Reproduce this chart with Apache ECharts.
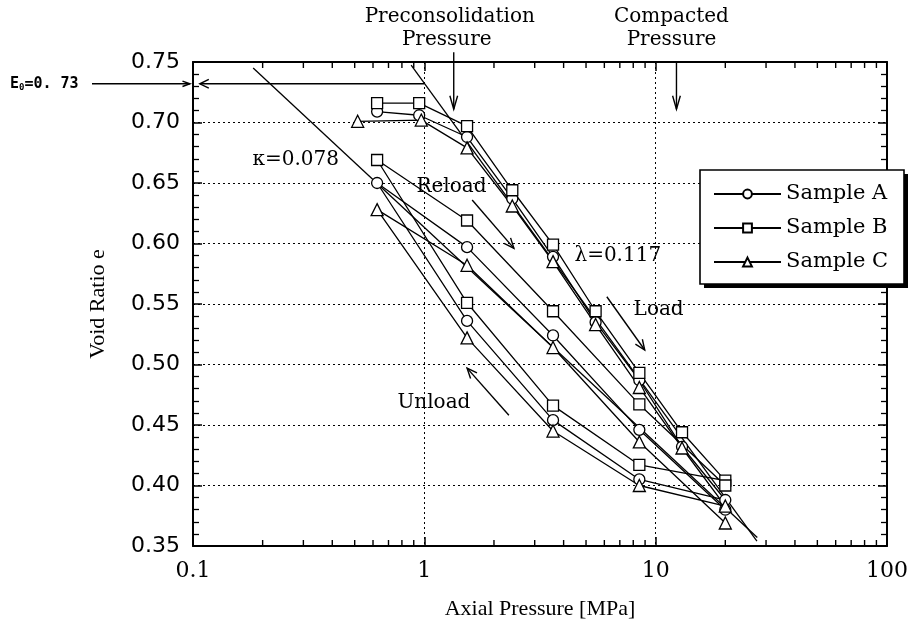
<!DOCTYPE html>
<html><head><meta charset="utf-8">
<script src="https://cdn.jsdelivr.net/npm/echarts@6/dist/echarts.min.js"></script>
<style>html,body{margin:0;padding:0;background:#fff}#c{width:914px;height:635px}</style>
</head><body><div id="c"></div>
<script>
// ---- data ----
const sampleNames = ['Sample A', 'Sample B', 'Sample C'];
// load -> unload -> reload path for each sample
const sampleA_p = [0.625, 0.95, 1.53, 2.4, 3.6, 5.5, 8.5, 13, 20, 8.5, 3.6, 1.53, 0.625, 1.53, 3.6, 8.5, 20];
const sampleA_e = [0.709, 0.706, 0.688, 0.637, 0.589, 0.535, 0.487, 0.432, 0.388, 0.405, 0.454, 0.536, 0.650, 0.597, 0.524, 0.446, 0.380];
const sampleB_p = [0.625, 0.95, 1.53, 2.4, 3.6, 5.5, 8.5, 13, 20, 8.5, 3.6, 1.53, 0.625, 1.53, 3.6, 8.5, 20];
const sampleB_e = [0.716, 0.716, 0.697, 0.644, 0.599, 0.544, 0.493, 0.444, 0.404, 0.417, 0.466, 0.551, 0.669, 0.619, 0.544, 0.467, 0.400];
const sampleC_p = [0.515, 0.97, 1.53, 2.4, 3.6, 5.5, 8.5, 13, 20, 8.5, 3.6, 1.53, 0.625, 1.53, 3.6, 8.5, 20];
const sampleC_e = [0.701, 0.702, 0.679, 0.631, 0.585, 0.533, 0.481, 0.431, 0.383, 0.400, 0.445, 0.522, 0.628, 0.582, 0.514, 0.436, 0.369];
const xTickLabels = [0.1, 1, 10, 100];
const xMinorTicks = [0.2,0.3,0.4,0.5,0.6,0.7,0.8,0.9, 2,3,4,5,6,7,8,9, 20,30,40,50,60,70,80,90];
const yRange = [0.35, 0.75];
const yStep = 0.05;
const kappaLine = [[0.182, 0.745], [27.5, 0.357]];
const lambdaLine = [[0.877, 0.7475], [27.4, 0.354]];
const e0Value = 0.732;
const precon_p = 1.34, compacted_p = 12.3;

const serif = 'DejaVu Serif';
const sans = 'DejaVu Sans';
const chart = echarts.init(document.getElementById('c'));

function pts(p, e) { return p.map((v, i) => [v, e[i]]); }
function sampleSeries(name, sym, size, p, e) {
  return {
    name, type: 'line', data: pts(p, e), symbol: sym, symbolSize: size, showAllSymbol: true,
    lineStyle: { color: '#000', width: 1.3 },
    itemStyle: { color: '#fff', borderColor: '#000', borderWidth: 1.3 },
    z: 3, animation: false, emphasis: { disabled: true }, silent: true
  };
}
const axisCommon = {
  axisLine: { lineStyle: { color: '#000', width: 2 } },
  axisTick: { inside: true, length: 9, lineStyle: { color: '#000', width: 1.5 } },
};
const xFmt = v => { const r = +(+v).toPrecision(3); return xTickLabels.includes(r) ? String(r) : ''; };

chart.setOption({
  animation: false,
  backgroundColor: '#fff',
  grid: { left: 193, right: 27, top: 62, bottom: 89 },
  legend: {
    data: sampleNames, orient: 'vertical', left: 700, top: 170, z: 8,
    itemWidth: 67, itemHeight: 11, itemGap: 10, padding: [12, 16, 12, 13],
    textStyle: { fontFamily: serif, fontSize: 21, color: '#000', lineHeight: 24 },
    selectedMode: false
  },
  xAxis: [
    Object.assign({ type: 'log', logBase: 10, min: 0.1, max: 100, position: 'bottom',
      axisLabel: { fontFamily: serif, fontSize: 22, color: '#000', margin: 14, formatter: xFmt },
      splitLine: { show: true, lineStyle: { color: '#000', type: [2, 3], width: 1 } },
      name: 'Axial Pressure [MPa]', nameLocation: 'middle', nameGap: 52,
      nameTextStyle: { fontFamily: 'Liberation Serif', fontSize: 22, color: '#000' } }, axisCommon),
    Object.assign({ type: 'log', logBase: 10, min: 0.1, max: 100, position: 'top',
      axisLabel: { show: false }, splitLine: { show: false } }, axisCommon)
  ],
  yAxis: [
    Object.assign({ type: 'value', min: yRange[0], max: yRange[1], interval: yStep, position: 'left',
      axisLabel: { fontFamily: sans, fontSize: 22, color: '#000', margin: 13, formatter: v => v.toFixed(2) },
      minorTick: { show: true, splitNumber: 5, length: 6, lineStyle: { color: '#000', width: 1.3 } },
      splitLine: { show: true, lineStyle: { color: '#000', type: [2, 3], width: 1 } },
      name: 'Void Ratio e', nameLocation: 'middle', nameGap: 84,
      nameTextStyle: { fontFamily: 'Liberation Serif', fontSize: 22, color: '#000' } }, axisCommon),
    Object.assign({ type: 'value', min: yRange[0], max: yRange[1], interval: yStep, position: 'right',
      axisLabel: { show: false }, splitLine: { show: false },
      minorTick: { show: true, splitNumber: 5, length: 6, lineStyle: { color: '#000', width: 1.3 } } }, axisCommon)
  ],
  series: [
    sampleSeries(sampleNames[0], 'circle', 11, sampleA_p, sampleA_e),
    sampleSeries(sampleNames[1], 'rect', 11, sampleB_p, sampleB_e),
    sampleSeries(sampleNames[2], 'triangle', 12, sampleC_p, sampleC_e),
    {
      type: 'custom', silent: true, z: 2,
      data: xMinorTicks.map(v => [v, yRange[0]]),
      renderItem: (params, api) => {
        const v = api.value(0);
        const b = api.coord([v, yRange[0]]), t = api.coord([v, yRange[1]]);
        const st = { stroke: '#000', lineWidth: 1.4 };
        return { type: 'group', children: [
          { type: 'line', shape: { x1: b[0], y1: b[1], x2: b[0], y2: b[1] - 6 }, style: st },
          { type: 'line', shape: { x1: t[0], y1: t[1], x2: t[0], y2: t[1] + 6 }, style: st }
        ] };
      }
    }
  ]
});

// ---- annotations placed through the chart's own scales ----
function P(x, e) { return chart.convertToPixel({ xAxisIndex: 0, yAxisIndex: 0 }, [x, e]); }
const stroke = { stroke: '#000', lineWidth: 1.4, fill: null };
function seg(a, b, w) { return { type: 'line', shape: { x1: a[0], y1: a[1], x2: b[0], y2: b[1] }, style: { stroke: '#000', lineWidth: w || 1.4 }, z: 3 }; }
function head(tip, from, len, ang) {
  len = len || 11; ang = ang || 0.4;
  const a = Math.atan2(tip[1] - from[1], tip[0] - from[0]);
  const p1 = [tip[0] - len * Math.cos(a - ang), tip[1] - len * Math.sin(a - ang)];
  const p2 = [tip[0] - len * Math.cos(a + ang), tip[1] - len * Math.sin(a + ang)];
  return { type: 'polyline', shape: { points: [p1, tip, p2] }, style: stroke, z: 3 };
}
function arrow(a, b, len, ang) { return [seg(a, b), head(b, a, len, ang)]; }
function txt(p, s, size, fam, align) {
  return { type: 'text', x: p[0], y: p[1], z: 3,
    style: { text: s, fill: '#000', font: (size || 20) + 'px "' + (fam || serif) + '"', align: align || 'center', verticalAlign: 'middle' } };
}

const g = [];
// legend frame with solid drop shadow (beneath the legend items)
g.push({ type: 'rect', z: 5, shape: { x: 704, y: 174, width: 204, height: 114 }, style: { fill: '#000' } });
g.push({ type: 'rect', z: 6, shape: { x: 700, y: 170, width: 204, height: 114 }, style: { fill: '#fff', stroke: '#000', lineWidth: 1.6 } });
// kappa & lambda lines
g.push(seg(P(...kappaLine[0]), P(...kappaLine[1]), 1.3));
g.push(seg(P(...lambdaLine[0]), P(...lambdaLine[1]), 1.3));
// E0 line inside the plot, arrow pointing left
const e0a = P(0.107, e0Value), e0b = P(1.0, e0Value);
g.push(...arrow(e0b, e0a, 10, 0.45));
// E0 outside label and arrow
const axL = P(0.1, e0Value);
g.push(...arrow([92, axL[1]], [axL[0] - 3, axL[1]], 8, 0.35));
g.push({ type: 'text', x: 10, y: axL[1], z: 3,
  style: { text: '{a|E}{s|0}{a|=0. 73}', verticalAlign: 'middle', align: 'left',
    rich: { a: { fontFamily: 'DejaVu Sans Mono', fontWeight: 'bold', fontSize: 15, fill: '#000' },
            s: { fontFamily: 'DejaVu Sans Mono', fontWeight: 'bold', fontSize: 9, fill: '#000', verticalAlign: 'bottom', padding: [7, 0, 0, 0] } } } });
// preconsolidation / compacted arrows and captions
const pc1 = P(precon_p, 0.758), pc2 = P(precon_p, 0.711);
g.push(...arrow(pc1, pc2, 14, 0.28));
const cp1 = P(compacted_p, 0.75), cp2 = P(compacted_p, 0.711);
g.push(...arrow(cp1, cp2, 14, 0.28));
g.push(txt([P(precon_p, 0.7)[0] - 4, 17], 'Preconsolidation', 20));
g.push(txt([P(precon_p, 0.7)[0] - 7, 40], 'Pressure', 20));
g.push(txt([P(compacted_p, 0.7)[0] - 5, 17], 'Compacted', 20));
g.push(txt([P(compacted_p, 0.7)[0] - 5, 40], 'Pressure', 20));
// labels
g.push(txt(P(0.278, 0.669), 'κ=0.078', 20));
g.push(txt(P(1.31, 0.647), 'Reload', 20));
g.push(txt(P(6.86, 0.590), 'λ=0.117', 20));
g.push(txt(P(10.3, 0.545), 'Load', 20));
g.push(txt(P(1.10, 0.468), 'Unload', 20));
g.push(...arrow(P(1.61, 0.636), P(2.44, 0.596), 11, 0.4));
g.push(...arrow(P(6.15, 0.556), P(8.97, 0.512), 11, 0.4));
g.push(...arrow(P(2.32, 0.458), P(1.53, 0.497), 11, 0.4));

chart.setOption({ graphic: g });
</script>
</body></html>
